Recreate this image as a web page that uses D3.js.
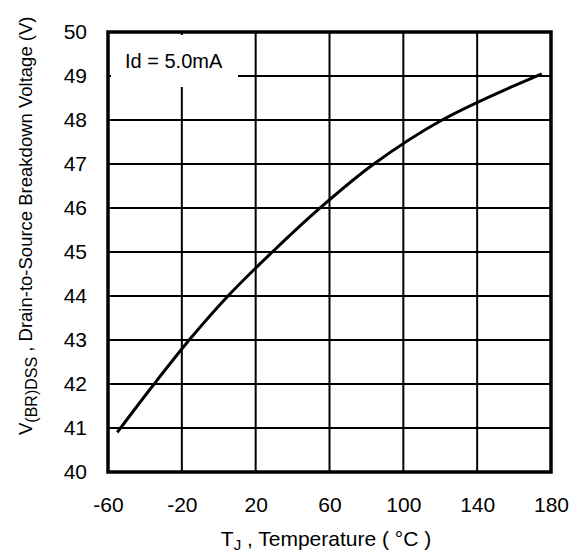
<!DOCTYPE html>
<html>
<head>
<meta charset="utf-8">
<script src="https://cdn.jsdelivr.net/npm/d3@7"></script>
<style>
  body { margin: 0; background: #fff; }
  text { font-family: "Liberation Sans", Arial, sans-serif; fill: #000; }
</style>
</head>
<body>
<div id="chart"></div>
<script>
// chart data
var temps = [-55, -35, -15, 5, 29, 54, 84, 121, 175];
var volts = [40.9, 42, 43.05, 44, 45, 45.97, 47, 48, 49.05];
var xTicks = [-60, -20, 20, 60, 100, 140, 180];
var yTicks = [40, 41, 42, 43, 44, 45, 46, 47, 48, 49, 50];
var noteText = 'Id = 5.0mA';

var width = 580, height = 554;
var plotLeft = 108, plotRight = 551, plotTop = 32, plotBottom = 472;
var font = '"Liberation Sans", Arial, sans-serif';

var svg = d3.select('#chart').append('svg')
  .attr('width', width)
  .attr('height', height);

var x = d3.scaleLinear().domain([-60, 180]).range([plotLeft, plotRight]);
var y = d3.scaleLinear().domain([40, 50]).range([plotBottom, plotTop]);

// grid
svg.append('g').selectAll('line')
  .data(xTicks.slice(1, -1))
  .enter().append('line')
  .attr('x1', function(d) { return x(d); })
  .attr('x2', function(d) { return x(d); })
  .attr('y1', plotTop).attr('y2', plotBottom)
  .attr('stroke', '#000').attr('stroke-width', 2);

svg.append('g').selectAll('line')
  .data(yTicks.slice(1, -1))
  .enter().append('line')
  .attr('x1', plotLeft).attr('x2', plotRight)
  .attr('y1', function(d) { return y(d); })
  .attr('y2', function(d) { return y(d); })
  .attr('stroke', '#000').attr('stroke-width', 2);

// white box behind the note
svg.append('rect')
  .attr('x', plotLeft + 3).attr('y', plotTop + 3)
  .attr('width', 127).attr('height', 52)
  .attr('fill', '#fff');

svg.append('text')
  .attr('x', plotLeft + 17).attr('y', 68)
  .style('font-size', '20px')
  .text(noteText);

// frame
svg.append('rect')
  .attr('x', plotLeft).attr('y', plotTop)
  .attr('width', plotRight - plotLeft).attr('height', plotBottom - plotTop)
  .attr('fill', 'none').attr('stroke', '#000').attr('stroke-width', 3.5);

// curve
var line = d3.line()
  .x(function(d, i) { return x(temps[i]); })
  .y(function(d) { return y(d); })
  .curve(d3.curveCatmullRom);

svg.append('path')
  .datum(volts)
  .attr('d', line)
  .attr('fill', 'none')
  .attr('stroke', '#000')
  .attr('stroke-width', 3);

// axes (tick labels only)
var xAxis = svg.append('g')
  .attr('transform', 'translate(0,' + plotBottom + ')')
  .call(d3.axisBottom(x).tickValues(xTicks).tickSize(0).tickPadding(25)
    .tickFormat(function(d) { return String(d); }));
xAxis.select('.domain').remove();
xAxis.selectAll('text').style('font-size', '21px').style('font-family', font);

var yAxis = svg.append('g')
  .attr('transform', 'translate(' + plotLeft + ',0)')
  .call(d3.axisLeft(y).tickValues(yTicks).tickSize(0).tickPadding(21)
    .tickFormat(function(d) { return String(d); }));
yAxis.select('.domain').remove();
yAxis.selectAll('text').style('font-size', '21px').style('font-family', font);

// axis titles
var xt = svg.append('text')
  .attr('x', 326).attr('y', 546)
  .attr('text-anchor', 'middle')
  .style('font-size', '21px');
xt.append('tspan').text('T');
xt.append('tspan').attr('dy', 4).style('font-size', '15px').text('J');
xt.append('tspan').attr('dy', -4).text(' , Temperature ( °C )');

var yt = svg.append('text')
  .attr('transform', 'translate(32,435) rotate(-90)')
  .attr('text-anchor', 'start')
  .style('font-size', '18.5px');
yt.append('tspan').text('V');
yt.append('tspan').attr('dy', 5).style('font-size', '16px').text('(BR)DSS');
yt.append('tspan').attr('dy', -5).text(' , Drain-to-Source Breakdown Voltage (V)');
</script>
</body>
</html>
